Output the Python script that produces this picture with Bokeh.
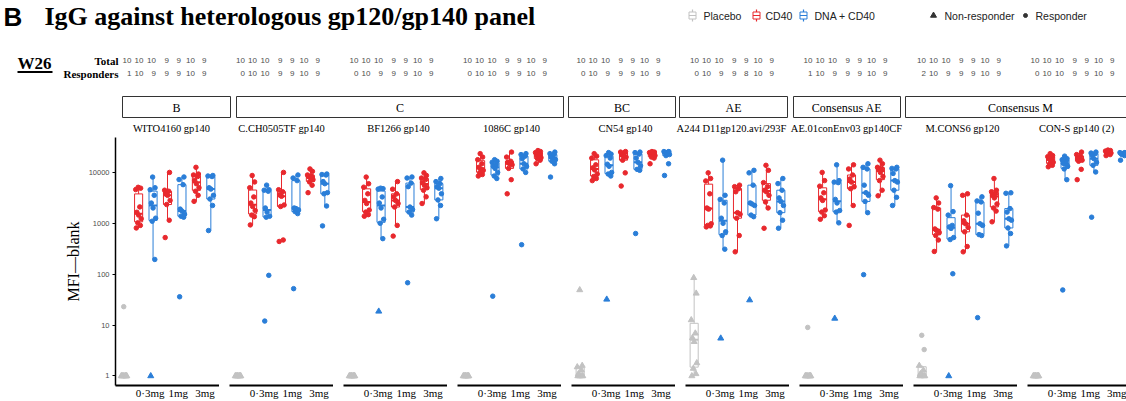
import numpy as np
from bokeh.plotting import figure
from bokeh.layouts import row, column
from bokeh.models import Range1d, FixedTicker, ColumnDataSource, PrintfTickFormatter
from bokeh.core.properties import value, field
from bokeh.embed import file_html
from bokeh.resources import INLINE

# ---------------- data ----------------
PANEL_TITLES = ["WITO4160 gp140", "C.CH0505TF gp140", "BF1266 gp140", "1086C gp140",
                "CN54 gp140", "A244 D11gp120.avi/293F", "AE.01conEnv03 gp140CF",
                "M.CONS6 gp120", "CON-S gp140 (2)"]
SUBTYPE_LABELS = ["B", "C", "BC", "AE", "Consensus AE", "Consensus M"]
GROUP_NAMES = ["Placebo", "CD40 0·3mg", "DNA + CD40 0·3mg", "CD40 1mg",
               "DNA + CD40 1mg", "CD40 3mg", "DNA + CD40 3mg"]
DOSES = ["0·3mg", "1mg", "3mg"]

TOTAL = [
    [10, 10, 10, 9, 9, 10, 9], [10, 10, 10, 9, 9, 10, 9], [10, 10, 10, 9, 9, 10, 9],
    [10, 10, 10, 9, 9, 10, 9], [10, 10, 10, 9, 9, 10, 9], [10, 10, 10, 9, 9, 10, 9],
    [10, 10, 10, 9, 9, 10, 9], [10, 10, 10, 9, 9, 10, 9], [10, 10, 10, 9, 9, 10, 9],
]
RESPONDERS = [
    [1, 10, 9, 9, 9, 10, 9], [0, 10, 10, 9, 9, 10, 9], [0, 10, 9, 9, 9, 10, 9],
    [0, 10, 10, 9, 9, 10, 9], [0, 10, 9, 9, 9, 10, 9], [0, 10, 9, 9, 8, 10, 9],
    [1, 10, 9, 9, 9, 10, 9], [2, 10, 9, 9, 9, 10, 9], [0, 10, 10, 9, 9, 10, 9],
]

# MFI - blank, per group: Placebo, CD40 0.3, DNA+CD40 0.3, CD40 1, DNA+CD40 1, CD40 3, DNA+CD40 3
WITO4160 = [
    [1, 1, 1, 1, 1, 1, 1, 1, 1, 23],
    [810, 910, 1020, 1230, 1450, 1650, 2100, 4600, 4900, 5100],
    [1, 195, 1100, 1260, 2000, 2500, 3550, 4570, 5000, 8100],
    [525, 1150, 2340, 2820, 3550, 3800, 4270, 4470, 10000],
    [36, 1320, 1380, 1510, 1740, 1900, 5750, 7240, 8130],
    [2700, 3550, 4270, 5000, 6000, 6900, 8300, 8900, 9300, 12600],
    [720, 2240, 3000, 3550, 4700, 5000, 8300, 8500, 8700],
]
CH0505TF = [
    [1, 1, 1, 1, 1, 1, 1, 1, 1, 1],
    [930, 1350, 1450, 1780, 2140, 2500, 3300, 5000, 6500, 8700],
    [12, 95, 1320, 1380, 1660, 2000, 4270, 4470, 4570, 5620],
    [440, 470, 2140, 2290, 3390, 3630, 4170, 4570, 10000],
    [52, 1550, 1700, 1820, 1950, 2000, 6900, 7760, 8900],
    [4000, 5600, 6500, 7200, 7900, 8300, 8500, 8900, 10500, 11700],
    [890, 2190, 3800, 4000, 6000, 6600, 8900, 9100, 9300],
]
BF1266 = [
    [1, 1, 1, 1, 1, 1, 1, 1, 1, 1],
    [1380, 1480, 1660, 1820, 2450, 2820, 3800, 5130, 6000, 8100],
    [18.6, 500, 1000, 1200, 2000, 2500, 3300, 4700, 4800, 4900],
    [560, 910, 2090, 2450, 2820, 3310, 3800, 4680, 6600],
    [68, 1450, 1660, 1860, 2090, 5250, 6170, 7760, 8130],
    [2450, 3310, 4470, 5000, 5620, 6300, 7240, 7760, 8700, 9800],
    [1230, 2240, 2880, 3800, 4900, 5250, 6030, 6600, 7590],
]
C1086 = [
    [1, 1, 1, 1, 1, 1, 1, 1, 1, 1],
    [8500, 9100, 9800, 11000, 11700, 12600, 14800, 17800, 20000, 23400],
    [37, 7600, 8500, 10000, 12000, 13200, 14100, 15800, 16600, 17800],
    [3800, 7200, 12000, 14100, 14800, 15800, 16600, 20000, 25100],
    [380, 10000, 11700, 13200, 14800, 18600, 20900, 22400, 23400],
    [14800, 17400, 18600, 19500, 20900, 21900, 23400, 24500, 25700, 26900],
    [8100, 14800, 16600, 17800, 19100, 20400, 22400, 23400, 25100],
]
CN54 = [
    [1, 1, 1, 1, 1, 1.1, 1.3, 1.5, 1.6, 49],
    [6900, 7600, 8300, 9300, 11200, 12300, 14100, 19100, 20900, 23400],
    [32, 8500, 9300, 10000, 13200, 14500, 19100, 21400, 22900, 24500],
    [5400, 9800, 17400, 20000, 20900, 22900, 24500, 25100, 25700],
    [630, 11000, 11500, 13500, 15800, 19100, 22900, 24500, 25100],
    [14800, 19100, 20000, 21400, 22400, 23400, 24000, 24500, 25100, 25700],
    [8700, 14800, 21400, 22400, 24000, 24500, 25100, 25700, 25700],
]
A244 = [
    [1, 1.1, 1.4, 1.8, 4.7, 5.6, 6.9, 12.6, 42, 85],
    [850, 890, 910, 980, 1900, 2000, 3800, 6800, 7600, 9800],
    [5.5, 310, 575, 680, 1000, 1260, 2510, 2950, 3550, 17400],
    [275, 575, 1260, 1510, 1620, 4170, 4790, 5250, 5620],
    [31, 1350, 1450, 2240, 2400, 2510, 5620, 9800, 11000],
    [800, 2000, 2630, 3550, 4170, 4470, 5250, 6300, 11000, 13800],
    [800, 1150, 1620, 2240, 2690, 3160, 4470, 6030, 7590],
]
AE01CON = [
    [1, 1, 1, 1, 1, 1, 1, 1, 1, 9],
    [1200, 1410, 1660, 1820, 2820, 3160, 3980, 5370, 6900, 10000],
    [13.5, 1020, 1660, 1780, 2510, 2950, 6300, 6450, 6900, 14100],
    [910, 2240, 4790, 5250, 6450, 7410, 8900, 11700, 14100],
    [98, 1620, 2690, 3550, 4000, 5620, 11700, 12600, 14800],
    [3470, 4470, 6900, 8300, 10000, 11500, 12000, 12600, 14800, 17400],
    [2240, 3240, 4470, 6450, 6900, 9550, 11700, 12000, 12600],
]
MCONS6 = [
    [1, 1, 1, 1, 1.05, 1.1, 1.3, 1.6, 3.3, 6.3],
    [280, 470, 575, 660, 725, 775, 1900, 2040, 2510, 3160],
    [1, 102, 480, 525, 795, 850, 910, 1450, 1700, 5500],
    [275, 350, 680, 830, 980, 1120, 1450, 3550, 3800],
    [14, 575, 600, 910, 980, 1580, 2630, 2750, 3310],
    [1070, 1740, 2000, 2400, 3160, 3550, 3800, 4170, 4470, 7590],
    [360, 630, 810, 1150, 1230, 1660, 1950, 3890, 3980],
]
CONS = [
    [1, 1, 1, 1, 1, 1, 1, 1, 1, 1],
    [12900, 13800, 14800, 15800, 17400, 18600, 19500, 20400, 21400, 23400],
    [49, 7200, 11700, 13200, 14800, 15100, 16600, 17800, 18600, 20900],
    [7200, 11500, 16600, 17400, 18200, 19100, 20900, 22400, 25100],
    [1320, 10200, 13800, 15800, 18600, 21400, 23400, 24000, 25100],
    [21400, 22400, 23400, 24000, 24500, 25100, 25700, 26300, 26900, 27500],
    [17400, 21400, 22400, 22900, 23400, 23400, 24000, 24500, 24500],
]
PANEL_DATA = [WITO4160, CH0505TF, BF1266, C1086, CN54, A244, AE01CON, MCONS6, CONS]

# ---------------- layout / style ----------------
W, H = 1126, 401
HDR_H = 134
PANEL_LEFT = 115
FRAME_W = 104
GAP = 10
X0, X1 = 0.4, 7.6
YMIN, YMAX = 0.65, 48550
DOSE_TICKS = [2.8, 4.75, 6.6]
JITTER = [-0.16, 0.12, -0.06, 0.18, 0.0, -0.12, 0.08, -0.2, 0.14, -0.03]
BOX_HALF = 0.28
GRAY, RED, BLUE = "#C2C2C2", "#E8282D", "#2A7ED8"
GROUP_COLORS = [GRAY, RED, BLUE, RED, BLUE, RED, BLUE]
SERIF = "Liberation Serif"
SANS = "Liberation Sans"
TITLE_X = [171, 281, 398, 511, 625, 731, 846, 962, 1076]
STRIP_EDGES = [(122, 230), (236, 563), (568, 675), (679, 787), (793, 900), (905, 1140)]
COUNT_DX = [0, 12, 24.5, 37.5, 49.5, 63.5, 75]


def box_stats(vals):
    lv = np.log10(np.asarray(vals, dtype=float))
    q1, med, q3 = np.percentile(lv, [25, 50, 75])
    iqr = q3 - q1
    lo = lv[lv >= q1 - 1.5 * iqr].min()
    hi = lv[lv <= q3 + 1.5 * iqr].max()
    return [10 ** v for v in (q1, med, q3, lo, hi)]


# ---------------- header ----------------
hdr = figure(width=W, height=HDR_H, x_range=Range1d(0, W), y_range=Range1d(HDR_H, 0),
             output_backend="svg", toolbar_location=None, min_border=0,
             x_axis_location=None, y_axis_location=None)
hdr.outline_line_color = None
for gr in hdr.grid:
    gr.visible = False

hdr.text(x=[3], y=[16], text=["B"], text_font=value(SANS), text_font_style="bold",
         text_font_size="26px", text_baseline="alphabetic", text_color="black")
hdr.text(x=[44], y=[16], text=["IgG against heterologous gp120/gp140 panel"],
         text_font=value(SERIF), text_font_style="bold", text_font_size="26px",
         text_baseline="alphabetic", text_color="black")

# legend
LEG_Y = 15
for cx, col in [(692, GRAY), (756, RED), (803, BLUE)]:
    hdr.quad(left=[cx - 3.5], right=[cx + 3.5], top=[LEG_Y - 3.5], bottom=[LEG_Y + 3.5],
             fill_color=None, line_color=col, line_width=1)
    hdr.segment(x0=[cx, cx, cx - 3.5], y0=[LEG_Y - 6, LEG_Y + 3.5, LEG_Y],
                x1=[cx, cx, cx + 3.5], y1=[LEG_Y - 3.5, LEG_Y + 6, LEG_Y],
                line_color=col, line_width=1.2)
hdr.text(x=[703, 765, 814, 944, 1035], y=[LEG_Y] * 5,
         text=["Placebo", "CD40", "DNA + CD40", "Non-responder", "Responder"],
         text_font=value(SANS), text_font_size="10.5px", text_baseline="middle",
         text_color="#222222")
hdr.scatter(x=[933], y=[LEG_Y], marker="triangle", size=6, color="#333333")
hdr.scatter(x=[1025], y=[LEG_Y], marker="circle", size=4, color="#333333")

# W26 / counts table
hdr.text(x=[17], y=[63], text=["W26"], text_font=value(SERIF), text_font_style="bold",
         text_font_size="17px", text_baseline="alphabetic", text_color="black")
hdr.segment(x0=[17], y0=[71.5], x1=[52], y1=[71.5], line_color="black", line_width=2)
hdr.text(x=[118, 118], y=[60, 73], text=["Total", "Responders"], text_font=value(SERIF),
         text_font_style="bold", text_font_size="11px", text_align="right",
         text_baseline="middle", text_color="black")
cx_list, tot_t, resp_t = [], [], []
for k in range(9):
    for g in range(7):
        cx_list.append(131 + 113.5 * k + COUNT_DX[g])
        tot_t.append(str(TOTAL[k][g]))
        resp_t.append(str(RESPONDERS[k][g]))
hdr.text(x=cx_list, y=[60] * len(cx_list), text=tot_t, text_font=value(SANS),
         text_font_size="8px", text_align="right", text_baseline="middle", text_color="#4D4D4D")
hdr.text(x=cx_list, y=[73] * len(cx_list), text=resp_t, text_font=value(SANS),
         text_font_size="8px", text_align="right", text_baseline="middle", text_color="#4D4D4D")

# subtype strips
hdr.quad(left=[a for a, b in STRIP_EDGES], right=[b for a, b in STRIP_EDGES],
         top=[96] * 6, bottom=[117] * 6, fill_color="white", line_color="#333333", line_width=1)
hdr.text(x=[(a + b) / 2 for a, b in STRIP_EDGES[:-1]] + [1020],
         y=[107] * 6, text=SUBTYPE_LABELS, text_font=value(SERIF), text_font_size="12px",
         text_align="center", text_baseline="middle", text_color="black")
# panel titles
hdr.text(x=TITLE_X, y=[128] * 9, text=PANEL_TITLES,
         text_font=value(SERIF), text_font_size="10.5px", text_align="center",
         text_baseline="middle", text_color="black")

# ---------------- panels ----------------
figs = []
for k in range(9):
    fw = FRAME_W if k < 8 else W - (PANEL_LEFT + 8 * (FRAME_W + GAP))
    left = PANEL_LEFT if k == 0 else GAP
    xend = X0 + fw * (X1 - X0) / FRAME_W
    f = figure(width=left + fw, height=H - HDR_H, x_range=Range1d(X0, xend),
               y_range=Range1d(YMIN, YMAX), y_axis_type="log",
               y_axis_location="left" if k == 0 else None,
               output_backend="svg", toolbar_location=None,
               min_border_left=left, min_border_right=0, min_border_top=3, min_border_bottom=12)
    f.outline_line_color = None
    for gr in f.grid:
        gr.visible = False

    xa = f.xaxis[0]
    xa.ticker = FixedTicker(ticks=DOSE_TICKS, minor_ticks=[])
    xa.major_label_overrides = {t: d for t, d in zip(DOSE_TICKS, DOSES)}
    xa.major_tick_in = 0
    xa.major_tick_out = 0
    xa.minor_tick_in = 0
    xa.minor_tick_out = 0
    xa.axis_line_width = 2
    xa.axis_line_color = "black"
    xa.major_label_text_font = SERIF
    xa.major_label_text_font_size = "11px"
    xa.major_label_text_color = "black"
    xa.major_label_standoff = 1

    if k == 0:
        ya = f.yaxis[0]
        ya.ticker = FixedTicker(ticks=[1, 10, 100, 1000, 10000], minor_ticks=[])
        ya.formatter = PrintfTickFormatter(format="%d")
        ya.major_tick_out = 3
        ya.major_tick_in = 0
        ya.minor_tick_out = 0
        ya.minor_tick_in = 0
        ya.major_tick_line_color = "black"
        ya.axis_line_width = 1.5
        ya.axis_line_color = "black"
        ya.major_label_text_font = SANS
        ya.major_label_text_font_size = "7.5px"
        ya.major_label_text_color = "#4D4D4D"
        ya.major_label_standoff = 3
        ya.axis_label = "MFI\u2014blank"
        ya.axis_label_text_font = SERIF
        ya.axis_label_text_font_style = "normal"
        ya.axis_label_text_font_size = "16px"
        ya.axis_label_text_color = "black"
        ya.axis_label_standoff = 4

    data = PANEL_DATA[k]
    bx = dict(left=[], right=[], q1=[], q3=[], color=[])
    wh = dict(x0=[], y0=[], x1=[], y1=[], color=[])
    md = dict(x0=[], x1=[], y=[], color=[])
    pts = dict(x=[], y=[], marker=[], size=[], color=[])
    for g in range(7):
        vals = sorted(data[g])
        q1, med, q3, lo, hi = box_stats(vals)
        xc = g + 1
        col = GROUP_COLORS[g]
        bx["left"].append(xc - BOX_HALF); bx["right"].append(xc + BOX_HALF)
        bx["q1"].append(q1); bx["q3"].append(q3); bx["color"].append(col)
        for a, b in [(q3, hi), (q1, lo)]:
            wh["x0"].append(xc); wh["x1"].append(xc)
            wh["y0"].append(a); wh["y1"].append(b); wh["color"].append(col)
        md["x0"].append(xc - BOX_HALF); md["x1"].append(xc + BOX_HALF)
        md["y"].append(med); md["color"].append(col)
        n_nr = TOTAL[k][g] - RESPONDERS[k][g]
        for i, v in enumerate(vals):
            pts["x"].append(xc + JITTER[i % len(JITTER)])
            pts["y"].append(v)
            tri = i < n_nr
            pts["marker"].append("triangle" if tri else "circle")
            pts["size"].append(6 if tri else 4.5)
            pts["color"].append(col)

    f.segment(x0="x0", y0="y0", x1="x1", y1="y1", line_color="color", line_width=1,
              source=ColumnDataSource(wh))
    f.quad(left="left", right="right", bottom="q1", top="q3", fill_color=None,
           line_color="color", line_width=1, source=ColumnDataSource(bx))
    f.segment(x0="x0", y0="y", x1="x1", y1="y", line_color="color", line_width=2,
              source=ColumnDataSource(md))
    f.scatter(x="x", y="y", marker=field("marker"), size="size", fill_color="color",
              line_color="color", source=ColumnDataSource(pts))
    figs.append(f)

layout = column(hdr, row(*figs, spacing=0), spacing=0)
open("out.html", "w").write(file_html(layout, INLINE))
